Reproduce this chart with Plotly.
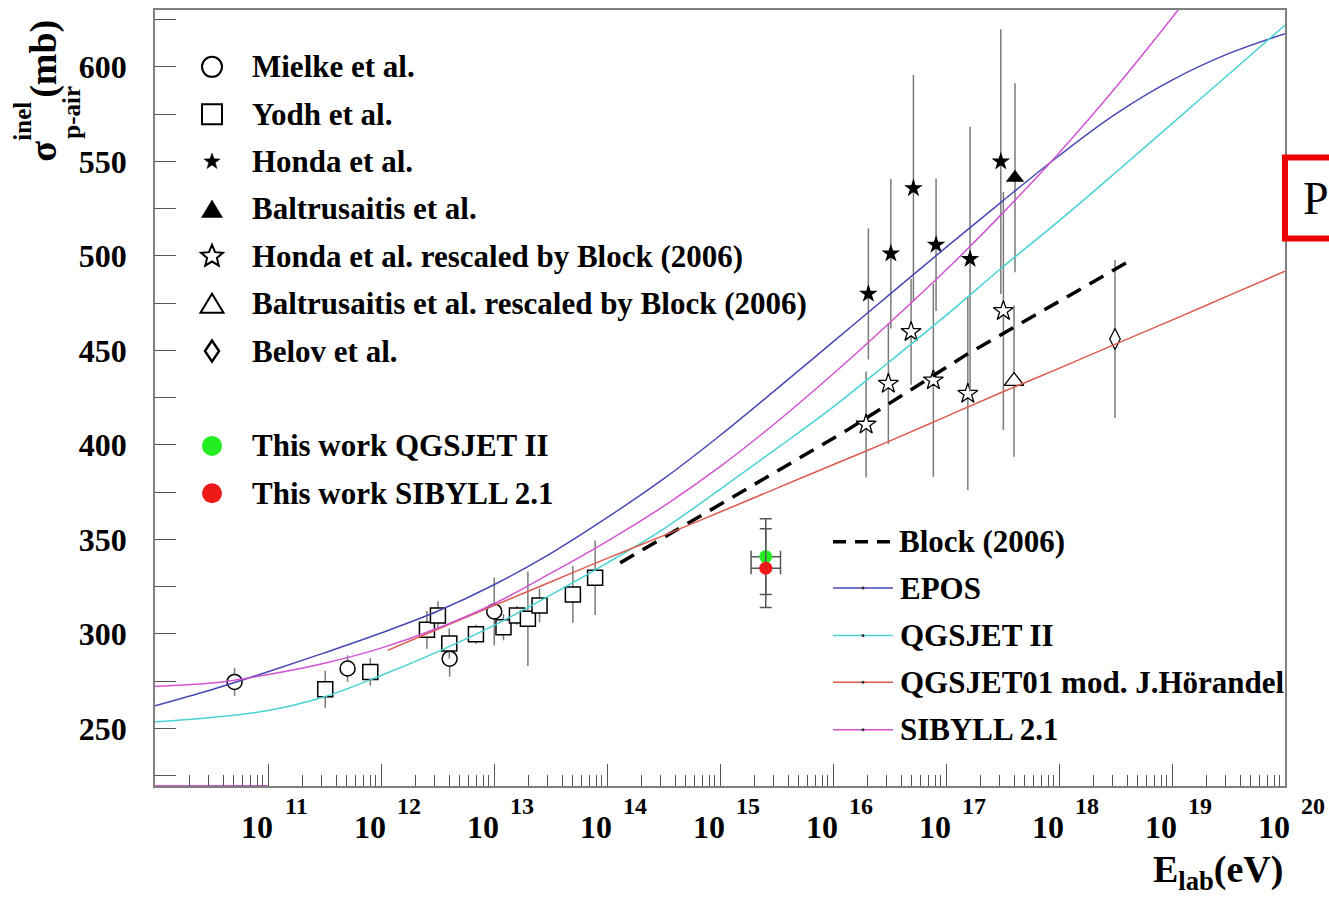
import math
import plotly.graph_objects as go

# ---------------- layout constants ----------------
W, H = 1329, 903
ML, MR, MT, MB = 155, 44, 8, 117
PW, PH = W - ML - MR, H - MT - MB
FONT = "Liberation Serif"

def px(xp):
    return (xp - ML) / PW

def py(yp):
    return (H - MB - yp) / PH

# ---------------- data ----------------
y_range = [219.55, 630.1]
x_range_log = [10, 20]
x_tick_exponents = [11, 12, 13, 14, 15, 16, 17, 18, 19, 20]

mielke_E = [5.06e10, 5.06e11, 4.05e12, 1.005e13]
mielke_sigma = [274.6, 281.7, 286.9, 311.9]
mielke_err = [7.5, 7.0, 9.5, 18.0]

yodh_E = [3.21e11, 8.04e11, 2.55e12, 3.19e12, 4.02e12, 6.92e12,
          1.213e13, 1.596e13, 1.995e13, 2.53e13, 4.99e13, 7.85e13]
yodh_sigma = [270.7, 279.9, 302.2, 309.8, 294.9, 299.8,
              303.6, 309.8, 308.0, 315.1, 320.9, 329.7]
yodh_err = [9.8, 7.3, 10.0, 7.5, 8.0, 5.0, 7.0, 5.0, 25.0, 9.0, 15.0, 19.7]

honda_E = [2.056e16, 3.25e16, 5.15e16, 8.17e16, 1.633e17, 3.055e17]
honda_sigma = [479.9, 501.2, 535.8, 505.9, 498.3, 549.9]
honda_err = [34.7, 39.6, 60.0, 35.0, 70.0, 70.0]

balt_E = [4.08e17]
balt_sigma = [541.3]
balt_err = [50.0]

honda_resc_E = [1.963e16, 3.09e16, 4.91e16, 7.73e16, 1.56e17, 3.22e17]
honda_resc_sigma = [410.8, 432.4, 459.8, 434.2, 427.1, 470.9]
honda_resc_err = [28.0, 32.0, 28.0, 51.0, 51.0, 63.0]

balt_resc_E = [4.0e17]
balt_resc_sigma = [433.8]
balt_resc_err = [40.0]

belov_E = [3.13e18]
belov_sigma = [456.0]
belov_err = [41.8]

this_E = [2.54e15]
this_E_low = [1.884e15]
this_E_high = [3.43e15]
this_qgs_sigma = [340.9]
this_qgs_err = [20.0]
this_sib_sigma = [334.8]
this_sib_err = [20.8]

block_E = [1.309e14, 1.324e16, 1.528e17, 4.406e18]
block_sigma = [337.6, 407.7, 447.9, 498.0]

# model curves sampled every half decade
curve_E = [1e10, 3.16e10, 1e11, 3.16e11, 1e12, 3.16e12, 1e13, 3.16e13, 1e14, 3.16e14,
           1e15, 3.16e15, 1e16, 3.16e16, 1e17, 3.16e17, 1e18, 3.16e18, 1e19, 3.16e19, 1e20]
epos_sigma = [262.0, 270.5, 280.0, 290.0, 300.5, 312.0, 326.0, 342.5, 361.5, 382.0,
              405.0, 429.5, 454.5, 479.5, 504.5, 529.0, 553.0, 575.0, 593.0, 607.0, 617.6]
qgs_sigma = [253.5, 255.8, 259.5, 266.8, 278.0, 290.5, 304.5, 320.5, 337.5, 355.5,
             376.5, 398.0, 420.0, 444.0, 468.5, 494.0, 518.5, 544.0, 570.0, 596.0, 622.0]
sib_sigma = [272.3, 274.0, 278.5, 284.5, 292.5, 303.0, 316.0, 332.0, 349.0, 367.5,
             388.5, 412.0, 437.5, 464.5, 492.5, 522.5, 554.5, 589.0, 626.0, 665.0, 706.0]
qgs01_E = [1.143e12, 3.16e12, 1e13, 3.16e13, 1e14, 3.16e14, 1e15, 3.16e15, 1e16,
           3.16e16, 1e17, 3.16e17, 1e18, 3.16e18, 1e19, 3.16e19, 1e20]
qgs01_sigma = [291.3, 302.5, 315.0, 327.5, 340.0, 352.0, 364.5, 377.0, 389.5,
               402.0, 415.0, 428.0, 440.5, 453.3, 466.0, 479.0, 491.9]
sib_floor_E = [1.0e10, 1.0e11]

# ---------------- styles ----------------
ERR_COLOR = "#7a7a7a"
C_EPOS = "#4848b4"
C_QGS = "#48d2d2"
C_QGS01 = "#dc5a4e"
C_SIB = "#d254d2"
C_GREEN = "#22ee22"
C_RED = "#ee1a1a"


def err(arr, width=0):
    return dict(type="data", array=arr, color=ERR_COLOR, thickness=1.5, width=width)


fig = go.Figure()

# data points
fig.add_trace(go.Scatter(x=mielke_E, y=mielke_sigma, mode="markers", name="Mielke et al.",
                         error_y=err(mielke_err),
                         marker=dict(symbol="circle", size=15, color="white",
                                     line=dict(color="black", width=1.5))))
fig.add_trace(go.Scatter(x=yodh_E, y=yodh_sigma, mode="markers", name="Yodh et al.",
                         error_y=err(yodh_err),
                         marker=dict(symbol="square", size=15, color="white",
                                     line=dict(color="black", width=1.5))))
fig.add_trace(go.Scatter(x=honda_resc_E, y=honda_resc_sigma, mode="markers",
                         name="Honda et al. rescaled by Block (2006)",
                         error_y=err(honda_resc_err),
                         marker=dict(symbol="star", size=15, color="white",
                                     line=dict(color="black", width=1.3))))
fig.add_trace(go.Scatter(x=honda_E, y=honda_sigma, mode="markers", name="Honda et al.",
                         error_y=err(honda_err),
                         marker=dict(symbol="star", size=14, color="black",
                                     line=dict(width=0))))
fig.add_trace(go.Scatter(x=balt_E, y=balt_sigma, mode="markers", name="Baltrusaitis et al.",
                         error_y=err(balt_err),
                         marker=dict(symbol="triangle-up", size=16, color="black",
                                     line=dict(width=0))))
fig.add_trace(go.Scatter(x=balt_resc_E, y=balt_resc_sigma, mode="markers",
                         name="Baltrusaitis et al. rescaled by Block (2006)",
                         error_y=err(balt_resc_err),
                         marker=dict(symbol="triangle-up", size=17, color="white",
                                     line=dict(color="black", width=1.3))))
fig.add_trace(go.Scatter(x=belov_E, y=belov_sigma, mode="markers", name="Belov et al.",
                         error_y=err(belov_err),
                         marker=dict(symbol="diamond-tall", size=15, color="white",
                                     line=dict(color="black", width=1.3))))

ex_plus = [h - e for h, e in zip(this_E_high, this_E)]
ex_minus = [e - l for e, l in zip(this_E, this_E_low)]
for sig, er, col, nm in [(this_qgs_sigma, this_qgs_err, C_GREEN, "This work QGSJET II"),
                         (this_sib_sigma, this_sib_err, C_RED, "This work SIBYLL 2.1")]:
    fig.add_trace(go.Scatter(x=this_E, y=sig, mode="markers", name=nm,
                             error_y=dict(type="data", array=er, color="#555", thickness=1.5, width=6),
                             error_x=dict(type="data", array=ex_plus, arrayminus=ex_minus,
                                          color="#555", thickness=1.5, width=6),
                             marker=dict(symbol="circle", size=13, color=col, line=dict(width=0))))

# model curves
fig.add_trace(go.Scatter(x=block_E, y=block_sigma, mode="lines", name="Block (2006)",
                         line=dict(color="black", width=3.5, dash="16px,10px")))
for xs, ys, col, nm in [(curve_E, epos_sigma, C_EPOS, "EPOS"),
                        (curve_E, qgs_sigma, C_QGS, "QGSJET II"),
                        (qgs01_E, qgs01_sigma, C_QGS01, "QGSJET01 mod. J.Hörandel"),
                        (curve_E, sib_sigma, C_SIB, "SIBYLL 2.1")]:
    fig.add_trace(go.Scatter(x=xs, y=ys, mode="lines", name=nm,
                             line=dict(color=col, width=1.5, shape="spline", smoothing=1.0)))
fig.add_trace(go.Scatter(x=sib_floor_E, y=[y_range[0], y_range[0]], mode="lines",
                         name="SIBYLL 2.1 (floor)", cliponaxis=False,
                         line=dict(color=C_SIB, width=2)))

fig.update_traces(showlegend=False)

# ---------------- axes ----------------
fig.update_xaxes(type="log", range=x_range_log, showgrid=False, zeroline=False,
                 showline=True, mirror=True, linecolor="#808080", linewidth=1.5,
                 ticks="inside", ticklen=22, tickwidth=1.3, tickcolor="#555",
                 dtick=1, showticklabels=False,
                 minor=dict(ticks="inside", ticklen=11, tickwidth=1.2, tickcolor="#555",
                            dtick="D1", showgrid=False))
fig.update_yaxes(range=y_range, showgrid=False, zeroline=False,
                 showline=True, mirror=True, linecolor="#808080", linewidth=1.5,
                 ticks="inside", ticklen=21, tickwidth=1.3, tickcolor="#555",
                 tick0=250, dtick=50, ticklabelstandoff=20,
                 tickfont=dict(family=FONT, size=32, color="black", weight="bold"),
                 minor=dict(ticks="inside", ticklen=21, tickwidth=1.3, tickcolor="#555",
                            dtick=25, showgrid=False))

annotations = []
shapes = []

# x tick labels 10^n
for e in x_tick_exponents:
    annotations.append(dict(x=e, xref="x", y=py(827), yref="paper", text="10",
                            xshift=-10.8, showarrow=False, xanchor="center", yanchor="middle",
                            font=dict(family=FONT, size=32, color="black", weight="bold")))
    annotations.append(dict(x=e, xref="x", y=py(806), yref="paper", text=str(e),
                            xshift=28.4, showarrow=False, xanchor="center", yanchor="middle",
                            font=dict(family=FONT, size=24, color="black", weight="bold")))

# axis titles
annotations.append(dict(x=1.0, xref="paper", y=py(872), yref="paper",
                        text="E<sub>lab</sub>(eV)", showarrow=False,
                        xanchor="right", yanchor="middle",
                        font=dict(family=FONT, size=38, color="black", weight="bold")))
for txt, cx, cy, sz in [("σ", 43, 150, 38), ("(mb)", 44, 57, 38),
                        ("inel", 23, 120, 25), ("p-air", 72, 111, 25)]:
    annotations.append(dict(x=px(cx), xref="paper", y=py(cy), yref="paper", text=txt,
                            textangle=-90, showarrow=False, xanchor="center", yanchor="middle",
                            font=dict(family=FONT, size=sz, color="black", weight="bold")))

# ---------------- legend 1 (markers) ----------------
def anchor(cx, cy):
    return dict(xref="paper", yref="paper", xsizemode="pixel", ysizemode="pixel",
                xanchor=px(cx), yanchor=py(cy), layer="above")

def path_from(pts):
    return "M " + " L ".join(f"{x:.2f},{y:.2f}" for x, y in pts) + " Z"

def star_pts(R, ratio=0.4):
    pts = []
    for i in range(10):
        a = math.pi / 2 + i * math.pi / 5
        r = R if i % 2 == 0 else R * ratio
        pts.append((r * math.cos(a), r * math.sin(a)))
    return pts

LX = 212
rows1 = [65, 112.5, 160, 207.5, 255, 302.5, 350, 445, 492.5]
labels1 = ["Mielke et al.", "Yodh et al.", "Honda et al.", "Baltrusaitis et al.",
           "Honda et al. rescaled by Block (2006)",
           "Baltrusaitis et al. rescaled by Block (2006)", "Belov et al.",
           "This work QGSJET II", "This work SIBYLL 2.1"]

sh = anchor(LX, rows1[0]); sh.update(type="circle", x0=-10, x1=10, y0=-10, y1=10,
                                     line=dict(color="black", width=2), fillcolor="white"); shapes.append(sh)
sh = anchor(LX, rows1[1]); sh.update(type="rect", x0=-10, x1=10, y0=-10, y1=10,
                                     line=dict(color="black", width=2), fillcolor="white"); shapes.append(sh)
sh = anchor(LX, rows1[2]); sh.update(type="path", path=path_from(star_pts(8.5)),
                                     line=dict(color="black", width=0.5), fillcolor="black"); shapes.append(sh)
sh = anchor(LX, rows1[3]); sh.update(type="path", path=path_from([(-10.5, -8.5), (10.5, -8.5), (0, 9)]),
                                     line=dict(color="black", width=0.5), fillcolor="black"); shapes.append(sh)
sh = anchor(LX, rows1[4]); sh.update(type="path", path=path_from(star_pts(11.5, 0.45)),
                                     line=dict(color="black", width=2), fillcolor="white"); shapes.append(sh)
sh = anchor(LX, rows1[5]); sh.update(type="path", path=path_from([(-11.5, -9), (11.5, -9), (0, 10)]),
                                     line=dict(color="black", width=2), fillcolor="white"); shapes.append(sh)
sh = anchor(LX, rows1[6]); sh.update(type="path", path=path_from([(0, 10.5), (7, 0), (0, -10.5), (-7, 0)]),
                                     line=dict(color="black", width=2.5), fillcolor="white"); shapes.append(sh)
sh = anchor(LX, rows1[7]); sh.update(type="circle", x0=-10, x1=10, y0=-10, y1=10,
                                     line=dict(color=C_GREEN, width=0), fillcolor=C_GREEN); shapes.append(sh)
sh = anchor(LX, rows1[8]); sh.update(type="circle", x0=-10, x1=10, y0=-10, y1=10,
                                     line=dict(color=C_RED, width=0), fillcolor=C_RED); shapes.append(sh)

for lab, ry in zip(labels1, rows1):
    annotations.append(dict(x=px(250), xref="paper", y=py(ry), yref="paper", text=lab,
                            showarrow=False, xanchor="left", yanchor="middle",
                            font=dict(family=FONT, size=31, color="black", weight="bold")))

# ---------------- legend 2 (curves) ----------------
rows2 = [541, 587.5, 635, 682, 729.5]
labels2 = ["Block (2006)", "EPOS", "QGSJET II", "QGSJET01 mod. J.Hörandel", "SIBYLL 2.1"]
colors2 = ["black", C_EPOS, C_QGS, C_QGS01, C_SIB]
for i, (lab, ry, col) in enumerate(zip(labels2, rows2, colors2)):
    if i == 0:
        shapes.append(dict(type="line", xref="paper", yref="paper", x0=px(833), x1=px(898),
                           y0=py(ry), y1=py(ry), layer="above",
                           line=dict(color="black", width=3.5, dash="13px,9px")))
        tx = 897
    else:
        shapes.append(dict(type="line", xref="paper", yref="paper", x0=px(833), x1=px(893),
                           y0=py(ry), y1=py(ry), layer="above", line=dict(color=col, width=1.5)))
        sh = anchor(863, ry); sh.update(type="circle", x0=-1.5, x1=1.5, y0=-1.5, y1=1.5,
                                        line=dict(color="#333", width=0), fillcolor="#333")
        shapes.append(sh)
        tx = 898
    annotations.append(dict(x=px(tx), xref="paper", y=py(ry), yref="paper", text=lab,
                            showarrow=False, xanchor="left", yanchor="middle",
                            font=dict(family=FONT, size=31, color="black", weight="bold")))

# ---------------- red box on the right ----------------
shapes.append(dict(type="rect", xref="paper", yref="paper", x0=px(1285), x1=px(1345),
                   y0=py(156), y1=py(237), line=dict(color="#ee0000", width=6),
                   fillcolor="rgba(0,0,0,0)", layer="above"))
annotations.append(dict(x=px(1301), xref="paper", y=py(197), yref="paper", text="P",
                        showarrow=False, xanchor="left", yanchor="middle",
                        font=dict(family=FONT, size=46, color="black")))

fig.update_layout(width=W, height=H, margin=dict(l=ML, r=MR, t=MT, b=MB, pad=0),
                  paper_bgcolor="white", plot_bgcolor="white",
                  font=dict(family=FONT, color="black"),
                  showlegend=False, annotations=annotations, shapes=shapes)

fig.write_html("out.html")
